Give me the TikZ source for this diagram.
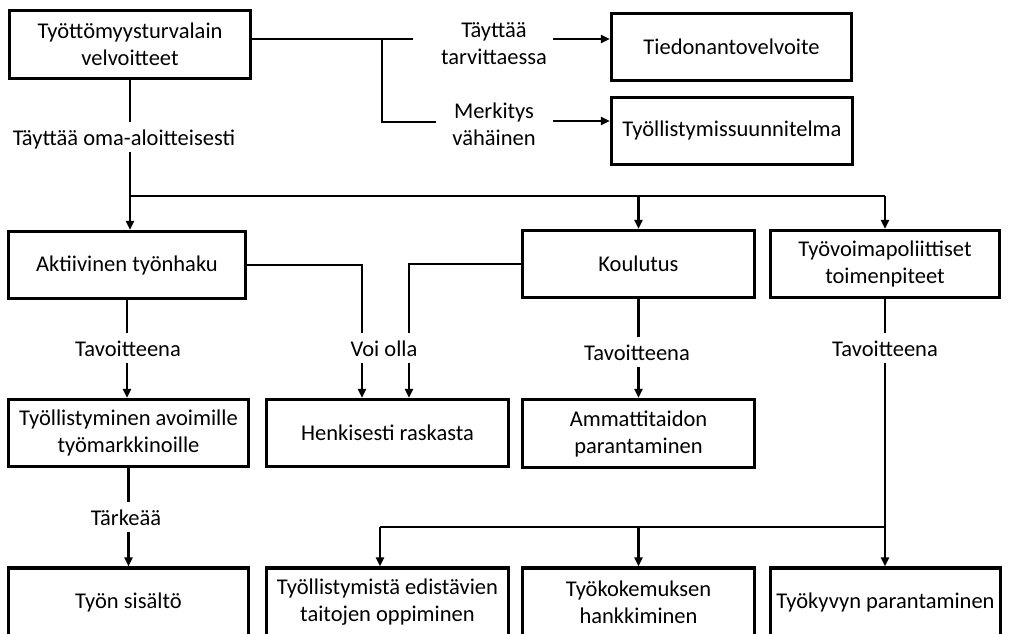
\documentclass[tikz,border=0pt]{standalone}
\usepackage{fontspec}
\setmainfont{Carlito}
\usepackage{tikz}
\usetikzlibrary{arrows.meta,positioning}

\begin{document}
\begin{tikzpicture}[
    x=1pt, y=-1pt,
    >={Triangle[length=9pt,width=8pt]},
    font=\fontsize{22.5}{27}\selectfont,
    box/.style={draw, rectangle, line width=3.4pt, minimum height=67pt, align=center, inner sep=2pt},
    lbl/.style={align=center, inner xsep=5pt, inner ysep=7pt, text height=16pt, text depth=0pt},
    lbltwo/.style={align=center, inner xsep=5pt, inner ysep=2pt},
    link/.style={line width=2.8pt},
    arr/.style={->, line width=2.3pt}
]
    \useasboundingbox (0,0) rectangle (1025,634);
    \clip (0,0) rectangle (1025,634);

    \node[box, minimum width=241pt, minimum height=68pt] (velv) at (130,44.5) {Työttömyysturvalain\\velvoitteet};
    \node[box, minimum width=240pt] (tiedon) at (731.5,47) {Tiedonantovelvoite};
    \node[box, minimum width=241pt] (suunn) at (732,131) {Työllistymissuunnitelma};

    \node[box, minimum width=237pt] (aktiiv) at (127,265) {Aktiivinen työnhaku};
    \node[box, minimum width=232pt] (koul) at (638.5,264) {Koulutus};
    \node[box, minimum width=229pt] (tyov) at (885,264) {Työvoimapoliittiset\\toimenpiteet};

    \node[box, minimum width=240pt] (avoim) at (128.5,433) {Työllistyminen avoimille\\työmarkkinoille};
    \node[box, minimum width=242pt] (henk) at (387.5,433) {Henkisesti raskasta};
    \node[box, minimum width=232pt, minimum height=68pt] (ammat) at (638.5,433.5) {Ammattitaidon\\parantaminen};

    \node[box, minimum width=240pt, minimum height=68pt] (sisalto) at (128.5,602) {Työn sisältö};
    \node[box, minimum width=242pt, minimum height=68pt] (taito) at (387.5,602) {Työllistymistä edistävien\\taitojen oppiminen};
    \node[box, minimum width=232pt, minimum height=68pt] (kokem) at (638.5,602) {Työkokemuksen\\hankkiminen};
    \node[box, minimum width=230pt, minimum height=68pt] (kyky) at (885.5,602) {Työkyvyn parantaminen};

    % connector labels
    \node[lbltwo] (tarv) at (494,44) {Täyttää\\tarvittaessa};
    \node[lbltwo] (merk) at (494,124) {Merkitys\\vähäinen};
    \node[lbl] (oma) at (124,137) {Täyttää oma-aloitteisesti};
    \node[lbl] (tavo1) at (128,348) {Tavoitteena};
    \node[lbl] (voi) at (384,348) {Voi olla};
    \node[lbl] (tavo2) at (637,352) {Tavoitteena};
    \node[lbl] (tavo3) at (885,348) {Tavoitteena};
    \node[lbl] (tark) at (126,517) {Tärkeää};

    \coordinate (t1) at (382,39);
    \coordinate (t1e) at (413,39);
    \coordinate (t2) at (382,122);
    \coordinate (t2e) at (436,122);
    \coordinate (a1) at (553,39);
    \coordinate (a2) at (553,121);
    \coordinate (jn) at (130,196);
    \coordinate (vl) at (362,0);
    \coordinate (vr) at (409,0);
    \coordinate (jb) at (885,527);
    \coordinate (jb1) at (380,527);

    \draw[link] (velv.east |- t1) -- (t1e);
    \draw[link] (t1) -- (t2) -- (t2e);
    \draw[arr] (a1) -- (tiedon.west |- a1);
    \draw[arr] (a2) -- (suunn.west |- a2);

    \draw[link] (velv.south) -- (velv.south |- oma.north);
    \draw[link] (velv.south |- oma.south) -- (jn) -- (tyov.north |- jn);
    \draw[arr] (jn) -- (jn |- aktiiv.north);
    \draw[arr] (koul.north |- jn) -- (koul.north);
    \draw[arr] (tyov.north |- jn) -- (tyov.north);

    \draw[link] (aktiiv.south) -- (aktiiv.south |- tavo1.north);
    \draw[arr] (aktiiv.south |- tavo1.south) -- (aktiiv.south |- avoim.north);
    \draw[link] (aktiiv.east) -| (vl |- voi.north);
    \draw[link] (koul.west) -| (vr |- voi.north);
    \draw[arr] (vl |- voi.south) -- (vl |- henk.north);
    \draw[arr] (vr |- voi.south) -- (vr |- henk.north);
    \draw[link] (koul.south) -- (koul.south |- tavo2.north);
    \draw[arr] (koul.south |- tavo2.south) -- (ammat.north);

    \draw[link] (avoim.south) -- (avoim.south |- tark.north);
    \draw[arr] (avoim.south |- tark.south) -- (sisalto.north);

    \draw[link] (tyov.south) -- (tyov.south |- tavo3.north);
    \draw[link] (tyov.south |- tavo3.south) -- (jb) -- (jb1);
    \draw[arr] (jb) -- (jb |- kyky.north);
    \draw[arr] (jb1) -- (jb1 |- taito.north);
    \draw[arr] (kokem.north |- jb) -- (kokem.north);
\end{tikzpicture}
\end{document}
